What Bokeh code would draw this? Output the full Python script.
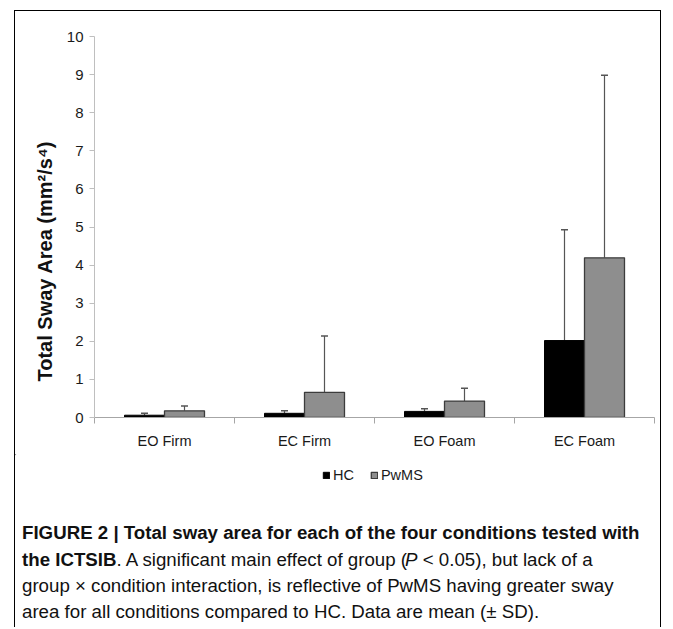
import numpy as np
from bokeh.plotting import figure
from bokeh.models import (Range1d, FixedTicker, Whisker, TeeHead, Legend, LegendItem,
                          ColumnDataSource, Title)
from bokeh.core.properties import value
from bokeh.embed import file_html
from bokeh.resources import INLINE

# ---- data ----
conditions = ["EO Firm", "EC Firm", "EO Foam", "EC Foam"]
hc_mean = [0.06, 0.11, 0.16, 2.02]
hc_sd = [0.05, 0.065, 0.07, 2.91]
pwms_mean = [0.175, 0.66, 0.43, 4.19]
pwms_sd = [0.125, 1.48, 0.34, 4.79]
y_ticks = [0, 1, 2, 3, 4, 5, 6, 7, 8, 9, 10]
groups = ["HC", "PwMS"]
y_title = "Total Sway Area (mm²/s⁴)"

caption_lines = [
    [("FIGURE 2 | Total sway area for each of the four conditions tested with", "bold")],
    [("the ICTSIB", "bold"), (". A significant main effect of group (", "normal"),
     ("P", "italic"), ("\u00a0< 0.05), but lack of a", "normal")],
    [("group × condition interaction, is reflective of PwMS having greater sway", "normal")],
    [("area for all conditions compared to HC. Data are mean (± SD).", "normal")],
]

FONT = "Liberation Sans"
HC_FILL, HC_LINE = "black", "black"
PW_FILL, PW_LINE = "#8e8e8e", "#3c3c3c"

centers = np.arange(len(conditions)) + 0.5
bar_w = 0.2857
hc_x = centers - bar_w / 2
pw_x = centers + bar_w / 2

W = 647
BORDER = "1.5px solid black"
p = figure(width=W, height=444, x_range=Range1d(0, 4), y_range=Range1d(0, 10),
           output_backend="svg", toolbar_location=None,
           min_border_left=79, min_border_right=8, min_border_top=25, min_border_bottom=38)
p.styles = {"margin-left": "14px", "margin-top": "10px", "border-left": BORDER,
            "border-right": BORDER, "border-top": BORDER}
p.xgrid.visible = False
p.ygrid.visible = False
p.outline_line_color = None

hc_src = ColumnDataSource(dict(x=hc_x, top=hc_mean, upper=np.array(hc_mean) + np.array(hc_sd)))
pw_src = ColumnDataSource(dict(x=pw_x, top=pwms_mean, upper=np.array(pwms_mean) + np.array(pwms_sd)))

p.vbar(x="x", top="top", width=bar_w, source=hc_src, fill_color=HC_FILL, line_color=HC_LINE, line_width=1)
p.vbar(x="x", top="top", width=bar_w, source=pw_src, fill_color=PW_FILL, line_color=PW_LINE, line_width=1.3)

for src in (hc_src, pw_src):
    w = Whisker(base="x", lower="top", upper="upper", source=src, dimension="height",
                line_color="#555555", line_width=1.2,
                upper_head=TeeHead(size=7, line_color="#555555", line_width=1.5), lower_head=None)
    p.add_layout(w)

# x axis
p.xaxis.ticker = FixedTicker(ticks=list(centers), minor_ticks=[0, 1, 2, 3, 4])
p.xaxis.major_label_overrides = {float(c): n for c, n in zip(centers, conditions)}
p.xaxis.major_tick_line_color = None
p.xaxis.major_tick_out = 0
p.xaxis.major_tick_in = 0
p.xaxis.minor_tick_out = 6
p.xaxis.minor_tick_in = 0
p.xaxis.minor_tick_line_color = "#a6a6a6"
p.xaxis.axis_line_color = "#a6a6a6"
p.xaxis.major_label_text_font = FONT
p.xaxis.major_label_text_font_size = "14.5px"
p.xaxis.major_label_text_color = "#1a1a1a"
p.xaxis.major_label_standoff = 9

# y axis
p.yaxis.ticker = FixedTicker(ticks=y_ticks)
p.yaxis.axis_line_color = "#bfbfbf"
p.yaxis.major_tick_line_color = "#bfbfbf"
p.yaxis.major_tick_out = 5
p.yaxis.major_tick_in = 0
p.yaxis.minor_tick_line_color = None
p.yaxis.major_label_text_font = FONT
p.yaxis.major_label_text_font_size = "15px"
p.yaxis.major_label_text_color = "#1a1a1a"
p.yaxis.major_label_standoff = 6

# y-axis title as a side title so that it can sit lower than the frame centre
p.add_layout(Title(text=y_title, align="left", offset=36, standoff=16,
                   text_font=FONT, text_font_style="bold", text_font_size="20px",
                   text_color="#111111"), "left")

# ---- legend + caption panel (pixel coordinates, y down) ----
CH = 173
cap = figure(width=W, height=CH, x_range=Range1d(0, W), y_range=Range1d(CH, 0),
             output_backend="svg", toolbar_location=None,
             x_axis_location=None, y_axis_location=None, min_border=0)
cap.styles = {"margin-left": "14px", "border-left": BORDER, "border-right": BORDER}
cap.xgrid.visible = False
cap.ygrid.visible = False
cap.outline_line_color = None

# swatch sources for the legend, kept outside the visible area
lg_hc = cap.vbar(x=[-50], top=[-50], bottom=[-60], width=1, fill_color=HC_FILL, line_color=HC_LINE)
lg_pw = cap.vbar(x=[-50], top=[-50], bottom=[-60], width=1, fill_color=PW_FILL, line_color=PW_LINE,
                 line_width=1.3)
legend = Legend(items=[LegendItem(label=groups[0], renderers=[lg_hc]),
                       LegendItem(label=groups[1], renderers=[lg_pw])],
                orientation="horizontal", location=(307, 144),
                glyph_width=8, glyph_height=8, label_standoff=3, spacing=16,
                label_height=17, padding=0, margin=0, border_line_color=None,
                background_fill_alpha=0,
                label_text_font=FONT, label_text_font_size="14.5px", label_text_color="#1a1a1a")
cap.add_layout(legend)

line_y = [77.5, 104.5, 130.5, 156.5]
seg_x = [[6.5], [6.5, 101, 389.5, 402], [6.5], [6.5]]
for segs, xs, yy in zip(caption_lines, seg_x, line_y):
    for (txt, style), xx in zip(segs, xs):
        cap.text(x=[xx], y=[yy], text=[txt], text_font=value(FONT),
                 text_font_style=style, text_font_size="18.7px",
                 text_baseline="middle", text_align="left", text_color="#111111")

open("out.html", "w").write(file_html([p, cap], INLINE))
